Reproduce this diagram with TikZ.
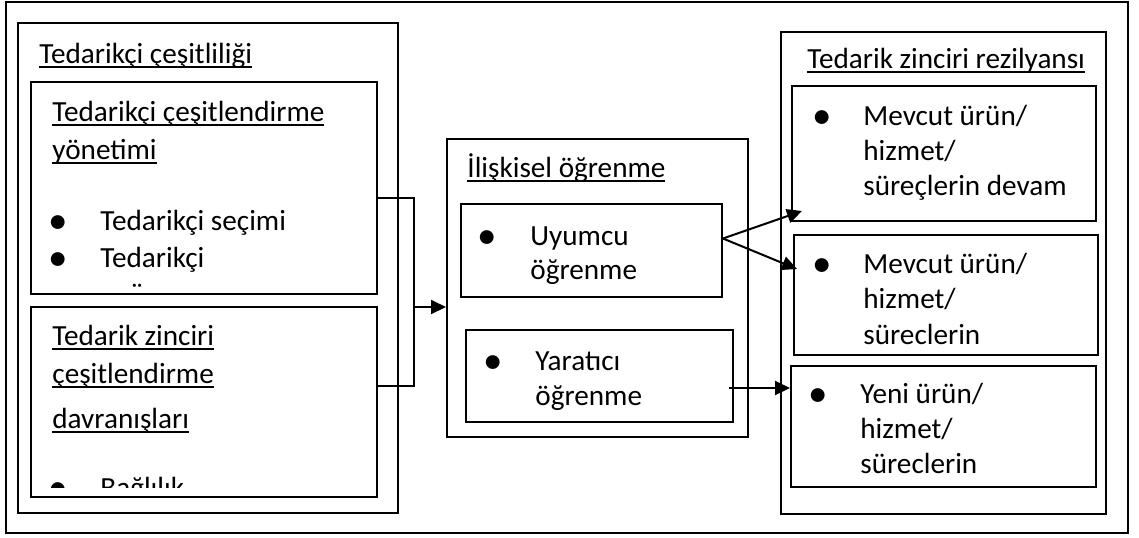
\documentclass[tikz,border=0pt]{standalone}
\usepackage{fontspec}
\setmainfont{Carlito}
\usetikzlibrary{arrows.meta,fit}
\newcommand{\ulin}[1]{\setbox0\hbox{#1}\rlap{\rule[-2.25pt]{\wd0}{1pt}}\box0}
\tikzset{
  box/.style = {draw, line width=1pt, inner sep=0pt},
  txt/.style = {anchor=base west, inner sep=0pt, font=\fontsize{14.6pt}{17pt}\selectfont},
  blt/.style = {anchor=base, inner sep=0pt, yshift=-1.8pt, font=\fontsize{19.5pt}{20pt}\selectfont},
  arr/.style = {-{Triangle[length=7.5pt,width=7pt]}, line width=1pt}
}

\begin{document}
\begin{tikzpicture}[x=0.5pt,y=-0.5pt]
\useasboundingbox (0,0) rectangle (1139,537);
\node[box, fit={(6,1.5) (1128,533)}] (frame) {};
\node[box, fit={(18,23) (398,513)}] (div) {};
\node[box, fit={(31,82) (377,294)}] (mgmt) {};
\node[box, fit={(31,307) (377,497)}] (beh) {};
\node[box, fit={(447,139) (748,437)}] (rel) {};
\node[box, fit={(461,204) (722,297)}] (adapt) {};
\node[box, fit={(466,330) (733,422)}] (crea) {};
\node[box, fit={(781,32) (1106,514)}] (res) {};
\node[box, fit={(792,86) (1096,221)}] (cont1) {};
\node[box, fit={(794,235) (1098,355)}] (cont2) {};
\node[box, fit={(791,366) (1096,487)}] (new) {};

\node[txt] (a) at (39,63) {\ulin{Tedarikçi çeşitliliği}};
\node[txt] (b) at (52,121) {\ulin{Tedarikçi çeşitlendirme}};
\node[txt] (c) at (52,159) {\ulin{yönetimi}};
\node[blt] (b1) at (58,230) {•};
\node[txt] (d) at (100,230) {Tedarikçi seçimi};
\node[blt] (b2) at (58,267) {•};
\node[txt] (e) at (100,267) {Tedarikçi};
\node[txt, anchor=base] (f) at (137,303) {¨};
\node[txt] (g) at (52,345) {\ulin{Tedarik zinciri}};
\node[txt] (h) at (52,383) {\ulin{çeşitlendirme}};
\node[txt] (i) at (52,428) {\ulin{davranışları}};
\begin{scope}
\clip (31,307) rectangle (377,487);
\node[blt] (b3) at (58,497) {•};
\node[txt] (j) at (100,497) {Bağlılık};
\end{scope}

\node[txt] (k) at (467,177) {\ulin{İlişkisel öğrenme}};
\node[blt] (b4) at (487,245) {•};
\node[txt] (l) at (530,245) {Uyumcu};
\node[txt] (m) at (530,279) {öğrenme};
\node[blt] (b5) at (493,370) {•};
\node[txt] (n) at (535,370) {Yaratıcı};
\node[txt] (o) at (535,405) {öğrenme};

\node[txt] (p) at (807,68) {\ulin{Tedarik zinciri rezilyansı}};
\node[blt] (b6) at (822,125) {•};
\node[txt] (q) at (863,125) {Mevcut ürün/};
\node[txt] (r) at (863,160) {hizmet/};
\node[txt] (s) at (863,195) {süreçlerin devam};
\node[blt] (b7) at (822,273) {•};
\node[txt] (t) at (863,273) {Mevcut ürün/};
\node[txt] (u) at (863,308) {hizmet/};
\node[txt] (v) at (863,344) {süreclerin};
\node[blt] (b8) at (818,403) {•};
\node[txt] (w) at (860,403) {Yeni ürün/};
\node[txt] (x) at (860,438) {hizmet/};
\node[txt] (y) at (860,473) {süreclerin};

\coordinate (brk) at (414,307);
\draw[line width=1pt] ([yshift=-5pt]mgmt.east) -| (brk) |- ([yshift=8pt]beh.east);
\draw[arr] (brk) -- (brk -| rel.west);
\draw[arr] ([yshift=6pt]adapt.east) -- ([shift={(11,-11)}]cont1.south west);
\draw[arr] ([yshift=6pt]adapt.east) -- ([shift={(4,35)}]cont2.north west);
\coordinate (ya) at ([shift={(-5,12)}]crea.east);
\draw[arr] (ya) -- (ya -| new.west);
\end{tikzpicture}
\end{document}
